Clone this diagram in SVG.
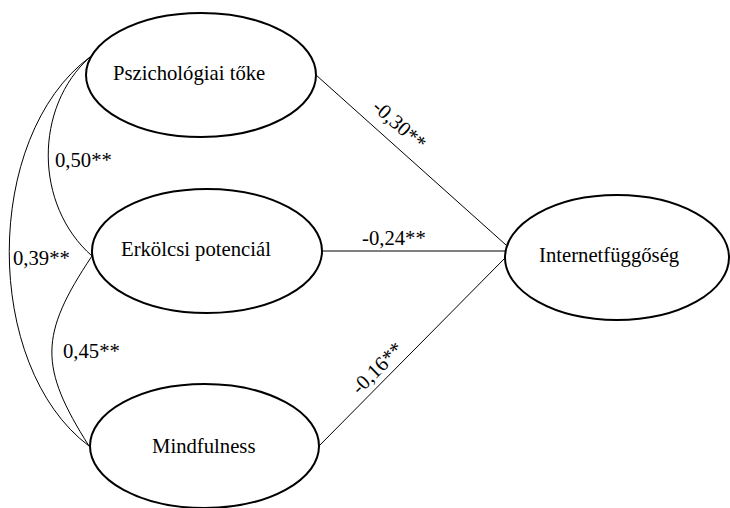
<svg xmlns="http://www.w3.org/2000/svg" width="730" height="508" viewBox="0 0 730 508">
<style>
  .node ellipse { fill: #ffffff; stroke: #000000; stroke-width: 2; }
  .node text { font-family: "Liberation Serif", "Times New Roman", serif; font-size: 20.7px; fill: #000000; }
  .conn path, .conn line { fill: none; stroke: #000000; stroke-width: 1; }
  .lbl { font-family: "Liberation Serif", "Times New Roman", serif; font-size: 20.7px; fill: #000000; }
</style>
<rect x="0" y="0" width="730" height="508" fill="#ffffff"/>
<g id="connectors" class="conn">
  <path d="M90,57 C34,107 34,205 92,256"/>
  <path d="M90,57 C-17.5,137 -17.5,366 89,446"/>
  <path d="M92,256 C39,335 39,367 89,446"/>
  <line x1="316" y1="75" x2="506" y2="245"/>
  <line x1="322" y1="251" x2="506" y2="251"/>
  <line x1="319" y1="446" x2="506" y2="257"/>
  <text class="lbl" x="55" y="167">0,50**</text>
  <text class="lbl" x="13" y="265">0,39**</text>
  <text class="lbl" x="63" y="358">0,45**</text>
  <text class="lbl" x="362" y="245">-0,24**</text>
  <text class="lbl" text-anchor="middle" transform="translate(395,130) rotate(41.8)">-0,30**</text>
  <text class="lbl" text-anchor="middle" transform="translate(382,373) rotate(-44.9)">-0,16**</text>
</g>
<g id="node-pszichologiai" class="node">
  <ellipse cx="201" cy="75" rx="115" ry="62"/>
  <text x="113" y="80">Pszichológiai tőke</text>
</g>
<g id="node-erkolcsi" class="node">
  <ellipse cx="207" cy="251" rx="115" ry="62"/>
  <text x="121" y="256">Erkölcsi potenciál</text>
</g>
<g id="node-mindfulness" class="node">
  <ellipse cx="204.5" cy="446" rx="114.5" ry="62"/>
  <text x="152" y="453">Mindfulness</text>
</g>
<g id="node-internet" class="node">
  <ellipse cx="617" cy="257.5" rx="112" ry="62.5"/>
  <text x="539" y="262">Internetfüggőség</text>
</g>
</svg>
